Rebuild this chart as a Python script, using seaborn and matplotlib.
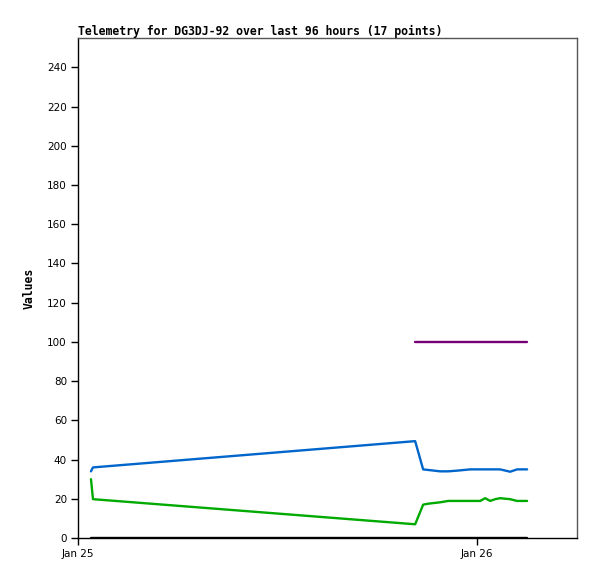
import matplotlib
matplotlib.use("Agg")
import matplotlib.pyplot as plt
import matplotlib.dates as mdates
import seaborn as sns
import pandas as pd
import numpy as np

hours = [0.78, 0.90, 20.27, 20.75, 21.05, 21.77, 22.26, 22.86, 23.58, 24.18,
         24.48, 24.78, 25.08, 25.38, 25.98, 26.40, 27.00]
blue = [34.0, 36.0, 49.4, 35.0, 34.7, 34.0, 34.0, 34.4, 35.0, 35.0,
        35.0, 35.0, 35.0, 35.0, 33.8, 35.0, 35.0]
green = [30.0, 19.8, 7.0, 17.0, 17.5, 18.2, 18.9, 18.9, 18.9, 18.9,
         20.3, 18.9, 19.8, 20.3, 19.8, 18.9, 18.9]
purple = [np.nan, np.nan, 100, 100, 100, 100, 100, 100, 100, 100,
          100, 100, 100, 100, 100, 100, 100]
black = [0] * 17

start = pd.Timestamp("2024-01-25 00:00")
times = [start + pd.Timedelta(hours=h) for h in hours]

series = {"black": black, "green": green, "blue": blue, "purple": purple}
colors = {"black": "#000000", "green": "#00aa00", "blue": "#0066cc", "purple": "#770077"}

frames = []
for name, vals in series.items():
    frames.append(pd.DataFrame({"time": times, "value": vals, "series": name}))
df = pd.concat(frames, ignore_index=True).dropna()

sns.set_style("white")
plt.rcParams["text.color"] = "black"
plt.rcParams["xtick.color"] = "black"
plt.rcParams["ytick.color"] = "black"
plt.rcParams["axes.labelcolor"] = "black"

fig = plt.figure(figsize=(5.97, 5.79), dpi=100)
ax = fig.add_axes([78 / 597, 41 / 579, 499 / 597, 500 / 579])

sns.lineplot(data=df, x="time", y="value", hue="series", palette=colors,
             linewidth=1.7, legend=False, ax=ax, estimator=None, sort=True)

ax.set_xlim(start, start + pd.Timedelta(hours=30))
ax.set_ylim(0, 255)
ax.set_yticks(range(0, 241, 20))
ax.set_xticks([start, start + pd.Timedelta(days=1)])
ax.xaxis.set_major_formatter(mdates.DateFormatter("%b %d"))

ax.tick_params(axis="both", direction="out", length=5, width=1, color="black",
               labelcolor="black", labelsize=7.5, pad=3, left=True, bottom=True)
for lab in ax.get_xticklabels() + ax.get_yticklabels():
    lab.set_fontfamily("DejaVu Sans")

for side in ["left", "bottom"]:
    ax.spines[side].set_color("black")
    ax.spines[side].set_linewidth(1)
for side in ["top", "right"]:
    ax.spines[side].set_color("#555555")
    ax.spines[side].set_linewidth(1)

ax.set_xlabel("")
ax.set_ylabel("Values", fontfamily="DejaVu Sans Mono", fontweight="bold", fontsize=8.3,
              labelpad=8, color="black")
ax.set_title("Telemetry for DG3DJ-92 over last 96 hours (17 points)", loc="left",
             fontfamily="DejaVu Sans Mono", fontweight="bold", fontsize=8.3, pad=2,
             color="black")

fig.savefig("out.png", dpi=100)
